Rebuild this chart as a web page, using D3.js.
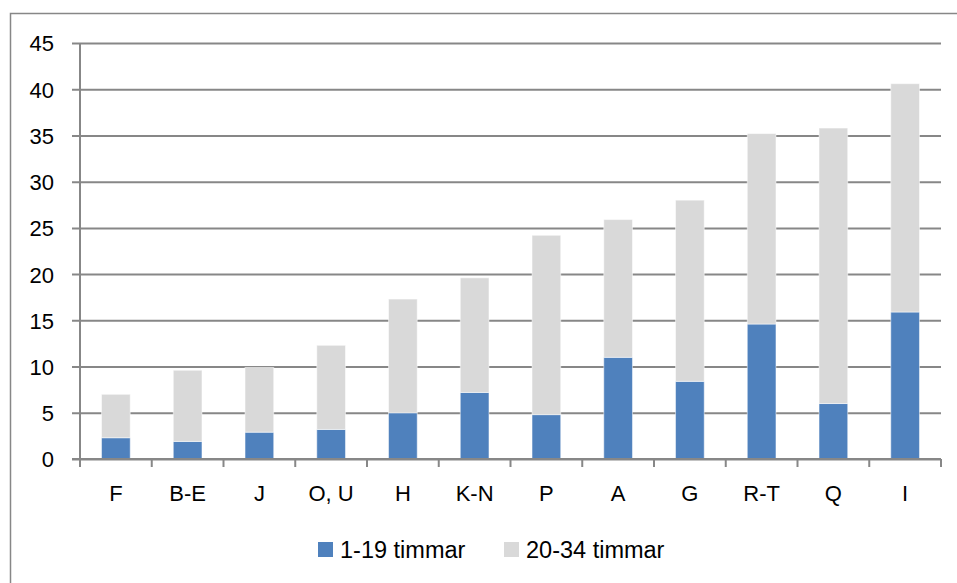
<!DOCTYPE html>
<html lang="sv">
<head>
    <meta charset="UTF-8">
    <title>Stapeldiagram - timmar</title>
    <script src="https://cdn.jsdelivr.net/npm/d3@7"></script>
    <style>
        body { margin: 0; background: #fff; }
        text { font-family: "Liberation Sans", Arial, sans-serif; fill: #000; }
    </style>
</head>
<body>
<script type="application/javascript">

    let w = 957, h = 583;

    // data
    let categories = ['F', 'B-E', 'J', 'O, U', 'H', 'K-N', 'P', 'A', 'G', 'R-T', 'Q', 'I'];
    let shortHours = [2.3, 1.9, 2.9, 3.2, 5.0, 7.2, 4.8, 11.0, 8.4, 14.6, 6.0, 15.9];
    let longHours  = [4.7, 7.7, 7.0, 9.1, 12.3, 12.4, 19.4, 14.9, 19.6, 20.6, 29.8, 24.7];
    let seriesNames = ['1-19 timmar', '20-34 timmar'];
    let yTicks = [0, 5, 10, 15, 20, 25, 30, 35, 40, 45];

    let colors = ['#4f81bd', '#d9d9d9'];
    let gridColor = '#878787';

    let rows = categories.map((c, i) => ({ cat: c, a: shortHours[i], b: longHours[i] }));
    let stack = d3.stack().keys(['a', 'b']);
    let layers = stack(rows);

    let plotLeft = 80, plotRight = 941, plotTop = 43, plotBottom = 459;

    let x = d3.scaleBand()
        .domain(categories)
        .range([plotLeft, plotRight])
        .paddingInner(0.6)
        .paddingOuter(0.3);

    let y = d3.scaleLinear()
        .domain([0, 45])
        .range([plotBottom, plotTop]);

    let svg = d3.select('body')
        .append('svg')
        .attr('width', w)
        .attr('height', h);

    // outer chart frame
    svg.append('rect')
        .attr('x', 10.5).attr('y', 13.5)
        .attr('width', 980).attr('height', 620)
        .attr('fill', 'none')
        .attr('stroke', gridColor)
        .attr('stroke-width', 1.5);

    // gridlines + y axis
    let yAxis = d3.axisLeft(y)
        .tickValues(yTicks)
        .tickSize(-(plotRight - plotLeft))
        .tickPadding(0);

    let gy = svg.append('g')
        .attr('transform', 'translate(' + plotLeft + ',0)')
        .call(yAxis);
    gy.select('.domain').remove();
    gy.selectAll('.tick line')
        .attr('x1', -8)
        .attr('stroke', gridColor)
        .attr('stroke-width', 2);
    gy.selectAll('.tick text')
        .attr('x', -26)
        .attr('dy', '0.36em')
        .attr('font-size', 22)
        .attr('fill', '#000');

    // bars
    svg.selectAll('g.layer')
        .data(layers)
        .enter()
        .append('g')
        .attr('class', 'layer')
        .attr('fill', (d, i) => colors[i])
        .selectAll('rect')
        .data(d => d)
        .enter()
        .append('rect')
        .attr('x', d => x(d.data.cat))
        .attr('width', x.bandwidth())
        .attr('y', d => y(d[1]))
        .attr('height', d => y(d[0]) - y(d[1]))
        .attr('stroke', '#ffffff')
        .attr('stroke-opacity', 0.5)
        .attr('stroke-width', 1);

    // left axis line
    svg.append('line')
        .attr('x1', plotLeft).attr('x2', plotLeft)
        .attr('y1', plotTop).attr('y2', plotBottom)
        .attr('stroke', gridColor)
        .attr('stroke-width', 2);

    // x axis with ticks at band boundaries
    let boundaries = d3.range(categories.length + 1)
        .map(i => plotLeft + i * (plotRight - plotLeft) / categories.length);

    svg.append('line')
        .attr('x1', plotLeft - 8).attr('x2', plotRight)
        .attr('y1', plotBottom).attr('y2', plotBottom)
        .attr('stroke', gridColor)
        .attr('stroke-width', 2);

    svg.selectAll('line.xtick')
        .data(boundaries)
        .enter()
        .append('line')
        .attr('class', 'xtick')
        .attr('x1', d => d).attr('x2', d => d)
        .attr('y1', plotBottom).attr('y2', plotBottom + 8)
        .attr('stroke', gridColor)
        .attr('stroke-width', 2);

    svg.selectAll('text.xlabel')
        .data(categories)
        .enter()
        .append('text')
        .attr('class', 'xlabel')
        .attr('x', d => x(d) + x.bandwidth() / 2)
        .attr('y', 501)
        .attr('text-anchor', 'middle')
        .attr('font-size', 22)
        .text(d => d);

    // legend
    let legendX = [318, 504];
    let legend = svg.selectAll('g.legend')
        .data(seriesNames)
        .enter()
        .append('g')
        .attr('class', 'legend')
        .attr('transform', (d, i) => 'translate(' + legendX[i] + ',542)');

    legend.append('rect')
        .attr('width', 15).attr('height', 15)
        .attr('fill', (d, i) => colors[i]);

    legend.append('text')
        .attr('x', 22)
        .attr('y', 15.5)
        .attr('font-size', 23.5)
        .text(d => d);

</script>
</body>
</html>
